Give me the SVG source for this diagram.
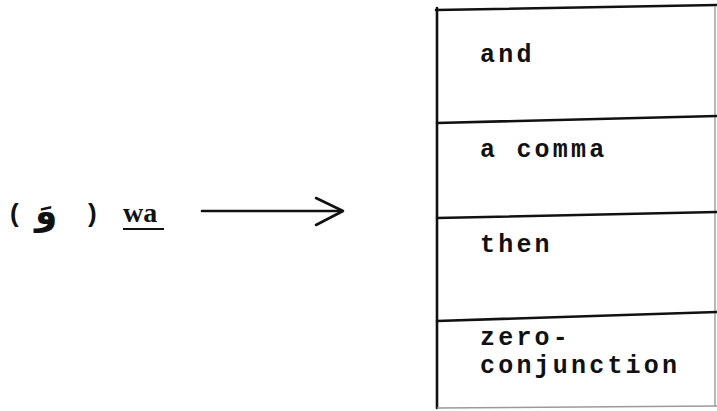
<svg xmlns="http://www.w3.org/2000/svg" width="717" height="411" viewBox="0 0 717 411">
  <style>
    .mono { font-family: "Liberation Mono", "Courier New", monospace; font-size: 25px; font-weight: bold; letter-spacing: 3.2px; fill: #111; }
    .serif { font-family: "Liberation Serif", "Times New Roman", serif; font-size: 28px; font-weight: bold; fill: #111; }
    .paren { font-family: "Liberation Sans", Arial, sans-serif; font-size: 26px; font-weight: bold; fill: #111; }
    .rule { stroke: #111; stroke-width: 2.6; fill: none; stroke-linecap: round; }
    .faint { stroke: #9a9a9a; stroke-width: 1.4; fill: none; }
  </style>
  <rect width="717" height="411" fill="#fff"/>

  <!-- source word: Arabic particle and its transliteration -->
  <g id="source">
    <text class="paren" x="10" y="222">(</text>
    <text x="35" y="224" font-family="'Noto Sans', 'DejaVu Sans', sans-serif" font-size="36" font-weight="bold" fill="#111">وَ</text>
    <text class="paren" x="88" y="222">)</text>
    <text class="serif" x="123" y="222">wa</text>
    <line x1="123" y1="229" x2="164" y2="229" stroke="#111" stroke-width="1.8"/>
  </g>

  <!-- connector -->
  <g id="connectors">
    <line class="rule" x1="202" y1="211" x2="340" y2="211" stroke-width="3.2"/>
    <polyline class="rule" points="316,198 343,211 316,225" stroke-linejoin="round" stroke-width="3.4"/>
  </g>

  <!-- table of English renderings -->
  <g id="frame">
    <line class="rule" x1="437" y1="8" x2="437" y2="408" stroke-width="3"/>
    <line class="rule" x1="436" y1="10" x2="717" y2="5"/>
    <line class="faint" x1="715" y1="6" x2="715" y2="406"/>
    <line class="faint" x1="437" y1="408" x2="717" y2="406"/>
  </g>
  <g id="row-and">
    <text class="mono" x="480" y="62">and</text>
  </g>
  <g id="row-comma">
    <line class="rule" x1="437" y1="123" x2="717" y2="116"/>
    <text class="mono" x="480" y="157">a comma</text>
  </g>
  <g id="row-then">
    <line class="rule" x1="437" y1="218" x2="717" y2="212"/>
    <text class="mono" x="480" y="252">then</text>
  </g>
  <g id="row-zero">
    <line class="rule" x1="437" y1="321" x2="717" y2="312"/>
    <text class="mono" x="480" y="345">zero-</text>
    <text class="mono" x="480" y="373">conjunction</text>
  </g>
</svg>
